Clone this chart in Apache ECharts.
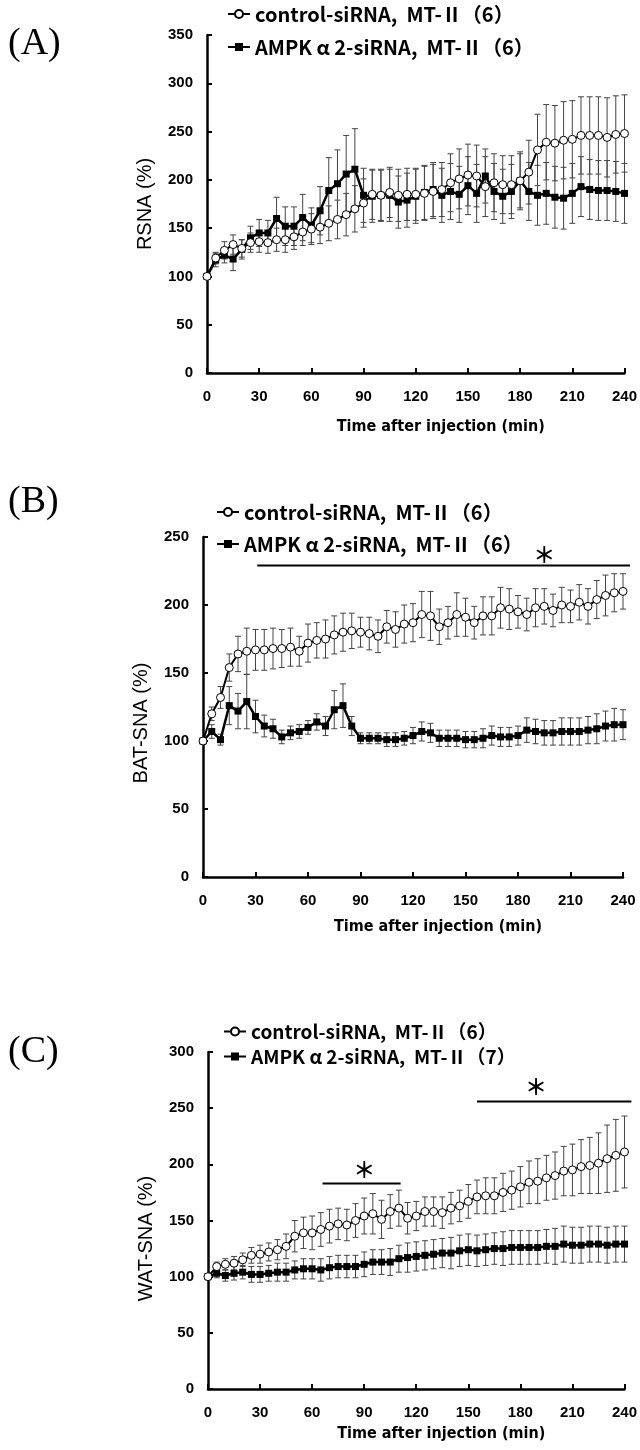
<!DOCTYPE html>
<html><head><meta charset="utf-8">
<script src="https://cdn.jsdelivr.net/npm/echarts@6/dist/echarts.min.js"></script>
<style>html,body{margin:0;padding:0;background:#fff}#c{width:640px;height:1450px}</style>
</head><body><div id="c"></div>
<script>
// ---- data ----
const time = [0,5,10,15,20,25,30,35,40,45,50,55,60,65,70,75,80,85,90,95,100,105,110,115,120,125,130,135,140,145,150,155,160,165,170,175,180,185,190,195,200,205,210,215,220,225,230,235,240];
const xTicks = [0,30,60,90,120,150,180,210,240];

const nameCtrl = "control-siRNA,  MT-Ⅱ（6）";
const nameAmpk6 = "AMPK α 2-siRNA,  MT-Ⅱ（6）";
const nameAmpk7 = "AMPK α 2-siRNA,  MT-Ⅱ（7）";

// (A) RSNA
const rsnaCtrl   = [100,119,127,133,129,135,136,135,138,138,141,146,149,151,155,159,164,170,176,185,184,187,184,185,185,186,188,190,197,201,205,204,193,197,195,195,199,208,231,239,238,241,242,246,246,246,244,247,248];
const rsnaCtrlSE = [0,6,9,10,9,10,11,11,12,13,13,14,16,17,18,20,22,24,25,26,26,26,27,27,27,28,28,28,30,31,32,32,31,30,30,30,30,33,37,39,39,40,40,40,40,40,41,40,40];
const rsnaAmpk   = [100,117,122,118,128,140,145,145,160,152,152,161,153,168,189,196,206,211,184,183,184,184,177,179,183,187,190,184,188,185,194,186,204,188,183,188,199,188,184,186,182,181,186,193,190,189,189,188,186];
const rsnaAmpkSE = [0,7,8,12,10,12,14,13,22,20,20,24,18,25,34,35,40,42,28,27,27,27,27,28,28,28,28,28,29,29,30,30,28,29,28,28,28,30,31,32,32,32,31,31,31,31,31,31,31];

// (B) BAT-SNA
const batCtrl    = [100,120,132,154,164,166,167,167,168,168,169,166,172,174,175,178,180,181,180,179,177,184,182,186,187,193,192,184,187,193,191,187,192,192,198,197,195,193,198,199,196,200,199,202,199,204,207,209,210];
const batCtrlSE  = [0,5,8,10,13,17,15,15,15,14,14,11,14,13,14,14,14,13,11,12,12,12,13,14,14,17,18,13,12,16,14,12,14,14,15,15,12,12,14,13,12,13,12,13,13,14,15,14,13];
const batAmpk    = [100,107,101,126,122,129,118,111,109,103,106,107,110,114,111,123,126,111,102,102,102,101,101,102,104,107,106,102,102,102,101,101,102,104,103,103,104,108,107,106,106,107,107,107,108,109,111,112,112];
const batAmpkSE  = [0,5,4,14,13,20,12,8,7,5,5,5,5,6,7,14,16,7,4,4,4,5,5,5,6,7,7,6,6,6,6,6,7,7,7,7,7,9,9,9,9,10,10,10,10,11,11,12,11];

// (C) WAT-SNA
const watCtrl    = [100,109,111,112,115,119,120,122,124,127,136,139,139,142,145,147,146,150,154,156,151,158,161,152,154,158,158,157,161,163,167,171,172,172,175,177,180,184,185,188,190,194,195,198,199,201,205,208,211];
const watCtrlSE  = [0,4,5,6,6,7,8,8,9,11,14,14,15,15,15,14,14,15,16,18,17,15,16,14,13,13,13,14,14,14,15,15,16,16,17,17,18,19,20,20,21,22,23,24,25,27,30,32,32];
const watAmpk    = [100,103,101,103,104,102,102,103,104,104,106,107,107,106,108,109,109,109,111,113,113,113,116,117,118,119,120,121,121,123,124,123,124,125,125,126,126,126,126,127,127,129,128,128,129,129,128,129,129];
const watAmpkSE  = [0,4,5,6,6,7,7,7,8,8,8,9,9,10,10,10,10,10,11,11,11,12,12,13,13,13,13,13,14,14,14,14,14,14,15,15,15,15,15,15,16,16,16,16,16,16,16,16,16];

// significance bars: [from t, to t, level, star t, star level]
const batSig = [[31,244,229,195,237]];
const watSig = [[66,111,183,90,195],[155,244,256,189,269]];

// ---- layout ----
const panels = [
  {label:'(A)', labelY:45, grid:{left:207, top:35, width:419, height:338}, yMax:350, yName:'RSNA (%)', yShift:0, xGap:46,
   ctrl:rsnaCtrl, ctrlSE:rsnaCtrlSE, ampk:rsnaAmpk, ampkSE:rsnaAmpkSE, ampkName:nameAmpk6, sig:[],
   leg:{left:227, y1:15, y2:48, size:20}},
  {label:'(B)', labelY:503, grid:{left:203, top:537, width:420, height:340}, yMax:250, yName:'BAT-SNA (%)', yShift:16, xGap:42,
   ctrl:batCtrl, ctrlSE:batCtrlSE, ampk:batAmpk, ampkSE:batAmpkSE, ampkName:nameAmpk6, sig:batSig,
   leg:{left:216, y1:513, y2:545, size:20}},
  {label:'(C)', labelY:1053, grid:{left:208, top:1052, width:417, height:337}, yMax:300, yName:'WAT-SNA (%)', yShift:18, xGap:37,
   ctrl:watCtrl, ctrlSE:watCtrlSE, ampk:watAmpk, ampkSE:watAmpkSE, ampkName:nameAmpk7, sig:watSig,
   leg:{left:223, y1:1033, y2:1058, size:19}}
];

const tickFont = {fontFamily:'Liberation Sans', fontWeight:'bold', fontSize:15, color:'#000'};

function errRender(params, api) {
  const x = api.value(0), y = api.value(1), e = api.value(2);
  if (!e) return null;
  const top = api.coord([x, y + e]);
  const bot = api.coord([x, y - e]);
  const hw = 3;
  const st = {stroke:'#444', lineWidth:1};
  return {type:'group', children:[
    {type:'line', shape:{x1:top[0], y1:top[1], x2:bot[0], y2:bot[1]}, style:st},
    {type:'line', shape:{x1:top[0]-hw, y1:top[1], x2:top[0]+hw, y2:top[1]}, style:st},
    {type:'line', shape:{x1:bot[0]-hw, y1:bot[1], x2:bot[0]+hw, y2:bot[1]}, style:st}
  ]};
}
function sigRender(params, api) {
  const a = api.coord([api.value(0), api.value(2)]);
  const b = api.coord([api.value(1), api.value(2)]);
  const s = api.coord([api.value(3), api.value(4)]);
  return {type:'group', children:[
    {type:'line', shape:{x1:a[0], y1:a[1], x2:b[0], y2:b[1]}, style:{stroke:'#000', lineWidth:2}},
    {type:'text', x:s[0], y:s[1], style:{text:'＊', fill:'#000', font:'bold 22px "Noto Sans CJK JP"', align:'center', verticalAlign:'middle'}}
  ]};
}

const option = {animation:false, backgroundColor:'#fff', grid:[], xAxis:[], yAxis:[], series:[], legend:[], graphic:[]};

panels.forEach((p, i) => {
  option.grid.push(Object.assign({containLabel:false}, p.grid));
  option.xAxis.push({type:'value', gridIndex:i, min:0, max:240, interval:30,
    name:'Time after injection (min)', nameLocation:'middle', nameGap:p.xGap,
    nameTextStyle:{fontFamily:'"DejaVu Sans Condensed", "Liberation Sans"', fontWeight:'bold', fontSize:16, color:'#000', padding:[0,0,0,50]},
    axisLine:{show:true, onZero:false, lineStyle:{color:'#000', width:2.5}},
    axisTick:{show:true, inside:true, length:5, lineStyle:{color:'#000', width:2}},
    axisLabel:Object.assign({margin:16}, tickFont),
    splitLine:{show:false}});
  option.yAxis.push({type:'value', gridIndex:i, min:0, max:p.yMax, interval:50,
    name:p.yName, nameLocation:'middle', nameGap:52,
    nameTextStyle:{fontFamily:'Liberation Sans', fontSize:20, color:'#000', padding:[0, 2*p.yShift, 0, 0]},
    axisLine:{show:true, lineStyle:{color:'#000', width:2.5}},
    axisTick:{show:true, inside:true, length:5, lineStyle:{color:'#000', width:2}},
    axisLabel:Object.assign({margin:14}, tickFont),
    splitLine:{show:false}});
  const mk = (vals, se) => time.map((t, k) => [t, vals[k], se[k]]);
  option.series.push({type:'custom', xAxisIndex:i, yAxisIndex:i, renderItem:errRender, data:mk(p.ctrl, p.ctrlSE), z:1, silent:true});
  option.series.push({type:'custom', xAxisIndex:i, yAxisIndex:i, renderItem:errRender, data:mk(p.ampk, p.ampkSE), z:1, silent:true});
  option.series.push({type:'line', name:p.ampkName, xAxisIndex:i, yAxisIndex:i, data:time.map((t,k)=>[t,p.ampk[k]]),
    symbol:'rect', symbolSize:7, lineStyle:{color:'#000', width:2.5}, itemStyle:{color:'#000', borderColor:'#000', borderWidth:0}, z:3});
  option.series.push({type:'line', name:nameCtrl, xAxisIndex:i, yAxisIndex:i, data:time.map((t,k)=>[t,p.ctrl[k]]),
    symbol:'circle', symbolSize:8, lineStyle:{color:'#000', width:2}, itemStyle:{color:'#fff', borderColor:'#000', borderWidth:1}, z:4});
  if (p.sig.length) {
    option.series.push({type:'custom', xAxisIndex:i, yAxisIndex:i, renderItem:sigRender, data:p.sig, clip:false, z:5, silent:true,
      encode:{x:[0,1,3], y:[2,4]}});
  }
  const legText = {fontFamily:'Noto Sans CJK JP', fontWeight:'bold', fontSize:p.leg.size, color:'#000'};
  option.legend.push({data:[nameCtrl], left:p.leg.left, top:p.leg.y1-11, itemWidth:22, itemHeight:10, itemGap:0, selectedMode:false, textStyle:legText, padding:0});
  option.legend.push({data:[p.ampkName], left:p.leg.left, top:p.leg.y2-11, itemWidth:22, itemHeight:10, itemGap:0, selectedMode:false, textStyle:legText, padding:0});
  option.graphic.push({type:'text', left:8, top:p.labelY-20, style:{text:p.label, font:'38px "Liberation Serif"', fill:'#000'}});
});

const chart = echarts.init(document.getElementById('c'), null, {renderer:'canvas'});
chart.setOption(option);
</script>
</body></html>
